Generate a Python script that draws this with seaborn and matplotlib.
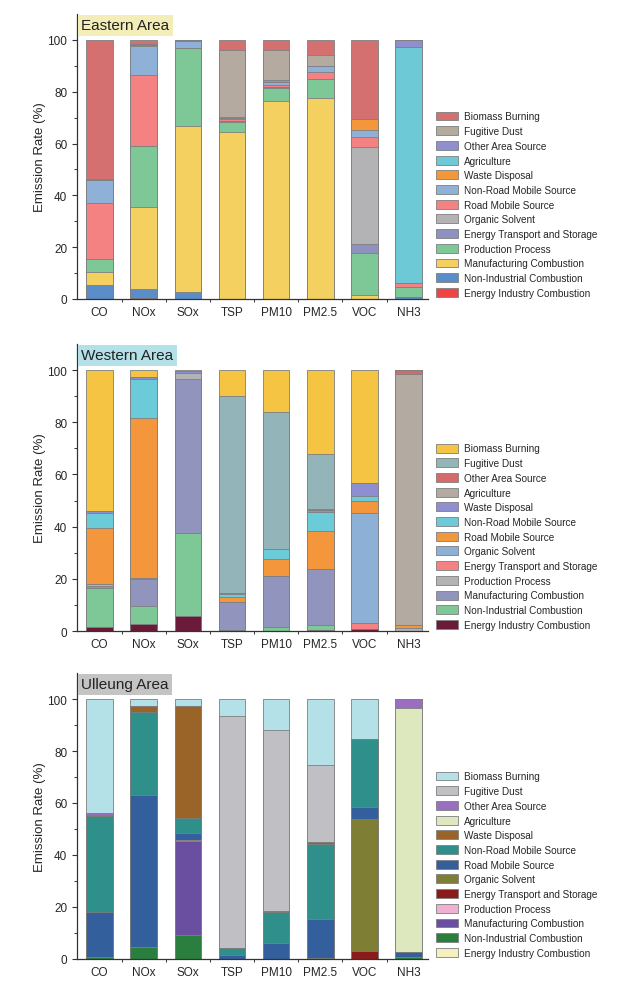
import numpy as np
import matplotlib
matplotlib.use('Agg')
import matplotlib.pyplot as plt
import seaborn as sns
from matplotlib.patches import Patch
from matplotlib.ticker import FixedLocator

sns.set_theme(style='ticks')
plt.rcParams['font.family'] = ['Liberation Sans', 'DejaVu Sans']

# ---------------------------------------------------------------------------
# DATA (percent share of each source, stacked bottom -> top)
# ---------------------------------------------------------------------------
pollutants = ['CO', 'NOx', 'SOx', 'TSP', 'PM10', 'PM2.5', 'VOC', 'NH3']

sources = ['Energy Industry Combustion', 'Non-Industrial Combustion',
           'Manufacturing Combustion', 'Production Process',
           'Energy Transport and Storage', 'Organic Solvent',
           'Road Mobile Source', 'Non-Road Mobile Source', 'Waste Disposal',
           'Agriculture', 'Other Area Source', 'Fugitive Dust',
           'Biomass Burning']

east_shares = [
    [0, 0.3, 0, 0, 0, 0, 0, 0],
    [5.5, 3.5, 2.7, 0, 0, 0, 0, 0.8],
    [4.8, 31.8, 64.0, 64.5, 76.5, 77.6, 1.5, 0],
    [5.1, 23.4, 30.1, 3.8, 4.9, 7.4, 16.1, 3.7],
    [0.2, 0, 0, 0.3, 0.3, 0, 3.6, 0],
    [0, 0, 0, 0, 0, 0, 37.4, 0],
    [21.4, 27.5, 0, 0.7, 1.0, 2.6, 3.8, 1.5],
    [9.0, 11.3, 2.9, 0.5, 1.0, 2.4, 3.0, 0],
    [0, 0.3, 0, 0, 0, 0, 4.1, 0],
    [0, 0, 0, 0, 0, 0, 0, 91.4],
    [0.5, 0.2, 0.3, 0.3, 0.7, 0, 0, 2.6],
    [0, 0, 0, 26.2, 11.8, 4.0, 0, 0],
    [53.5, 1.7, 0, 3.7, 3.8, 6.0, 30.5, 0],
]

west_shares = [
    [1.5, 2.6, 5.9, 0, 0, 0.5, 0.8, 0],
    [14.8, 7.1, 31.6, 0.5, 1.4, 1.7, 0, 0],
    [0.9, 10.1, 59.0, 10.5, 19.5, 21.6, 0, 0],
    [0.7, 0.4, 2.3, 0, 0, 0, 0, 1.3],
    [0, 0, 0, 0, 0, 0, 2.4, 0],
    [0, 0, 0, 0, 0, 0, 42.1, 0],
    [21.4, 61.5, 0, 2.0, 6.6, 14.4, 4.6, 0.9],
    [5.8, 14.7, 0, 1.1, 3.9, 7.6, 2.0, 0],
    [1.0, 0.9, 0.8, 0.5, 0, 0.4, 4.8, 0],
    [0, 0, 0, 0, 0, 0, 0, 96.3],
    [0, 0, 0, 0, 0.2, 0.4, 0, 1.5],
    [0, 0, 0, 75.5, 52.3, 21.3, 0, 0],
    [53.9, 2.7, 0.4, 9.9, 16.1, 32.1, 43.3, 0],
]

ulleung_shares = [
    [0, 0, 0, 0, 0, 0, 0, 0],
    [0.6, 4.5, 9.4, 0, 0, 0.4, 0, 0.6],
    [0, 0, 35.9, 0, 0, 0, 0, 0],
    [0, 0, 0.4, 0, 0, 0, 0, 0],
    [0, 0, 0, 0, 0, 0, 3.1, 0],
    [0, 0, 0, 0, 0, 0, 50.7, 0],
    [17.4, 58.6, 2.6, 1.5, 6.2, 15.0, 4.8, 2.2],
    [37.1, 32.0, 5.9, 2.7, 11.7, 28.8, 26.0, 0],
    [0.3, 2.1, 43.0, 0, 0.4, 0.7, 0, 0],
    [0, 0, 0, 0, 0, 0, 0, 93.6],
    [0.6, 0, 0, 0, 0, 0, 0, 3.6],
    [0, 0, 0, 89.1, 69.8, 29.7, 0, 0],
    [44.0, 2.8, 2.8, 6.7, 11.9, 25.4, 15.4, 0],
]

# colours, same order as sources (bottom -> top)
east_colors = ['#ef4444', '#5b8ec9', '#f4d060', '#7ec796', '#8f92c0', '#b3b3b6',
               '#f48282', '#8fb1d8', '#f3963c', '#6ec9d6', '#8f8fd0', '#b5aaa0',
               '#d47070']
west_colors = ['#6b1a3a', '#7ec796', '#9194bc', '#b3b3b6', '#f48282', '#8db0d6',
               '#f3963c', '#6ccbd8', '#8e8fd0', '#b3aaa2', '#d46a6a', '#93b4b8',
               '#f5c443']
ulleung_colors = ['#f5f0c0', '#2a7f3e', '#6a4fa0', '#f0b0d0', '#8b1a1a', '#7e7f35',
                  '#33609c', '#2f8f8a', '#9a6428', '#dde8bf', '#9a6fc0', '#c0c0c4',
                  '#b4e0e8']

panels = [
    ('Eastern Area', '#f3eeb8', east_shares, east_colors),
    ('Western Area', '#b4e0e8', west_shares, west_colors),
    ('Ulleung Area', '#c4c4c4', ulleung_shares, ulleung_colors),
]

# ---------------------------------------------------------------------------
# FIGURE
# ---------------------------------------------------------------------------
fig = plt.figure(figsize=(6.18, 9.95), dpi=100)
axes_pos = [
    [0.1246, 0.6985, 0.568, 0.2864],
    [0.1246, 0.3648, 0.568, 0.2885],
    [0.1246, 0.0352, 0.568, 0.2874],
]
EDGE = '#7f7f7f'

for (title, title_bg, shares, colors), pos in zip(panels, axes_pos):
    ax = fig.add_axes(pos)
    vals = np.array(shares, dtype=float)
    cum = np.cumsum(vals, axis=0)

    # draw cumulative totals from the top layer down so lower layers sit on top
    for i in range(len(sources) - 1, -1, -1):
        sns.barplot(x=pollutants, y=cum[i], color=colors[i], width=0.6,
                    saturation=1, errorbar=None, edgecolor=EDGE, linewidth=0.6,
                    ax=ax)

    ax.set_xlim(-0.51, 7.44)
    ax.set_ylim(0, 110)
    ax.yaxis.set_major_locator(FixedLocator([0, 20, 40, 60, 80, 100]))
    ax.yaxis.set_minor_locator(FixedLocator([10, 30, 50, 70, 90]))
    ax.xaxis.set_minor_locator(FixedLocator(np.arange(0.5, 7, 1)))
    ax.tick_params(axis='both', which='major', labelsize=8.5, direction='out',
                   color='#333333', width=0.8)
    ax.tick_params(axis='y', which='major', length=3.5)
    ax.tick_params(axis='y', which='minor', length=2, width=0.7, color='#333333')
    ax.tick_params(axis='x', which='major', length=0, pad=5)
    ax.tick_params(axis='x', which='minor', length=2.5, width=0.7, color='#333333')
    for s in ['top', 'right']:
        ax.spines[s].set_visible(False)
    for s in ['left', 'bottom']:
        ax.spines[s].set_color('#333333')
        ax.spines[s].set_linewidth(0.9)
    ax.set_xlabel('')
    ax.set_ylabel('Emission Rate (%)', fontsize=9.5, labelpad=1)

    ax.text(0.012, 0.985, title, transform=ax.transAxes, ha='left', va='top',
            fontsize=11, color='#222222',
            bbox=dict(facecolor=title_bg, edgecolor='none', pad=2.5))

    handles = [Patch(facecolor=colors[i], edgecolor=EDGE, linewidth=0.6,
                     label=sources[i])
               for i in range(len(sources) - 1, -1, -1)]
    ax.legend(handles=handles, loc='lower left', bbox_to_anchor=(1.01, -0.01),
              frameon=False, fontsize=7.2, handlelength=2.2, handleheight=1.0,
              labelspacing=0.47, handletextpad=0.6, borderaxespad=0)

fig.savefig('out.png', dpi=100, facecolor='white')
